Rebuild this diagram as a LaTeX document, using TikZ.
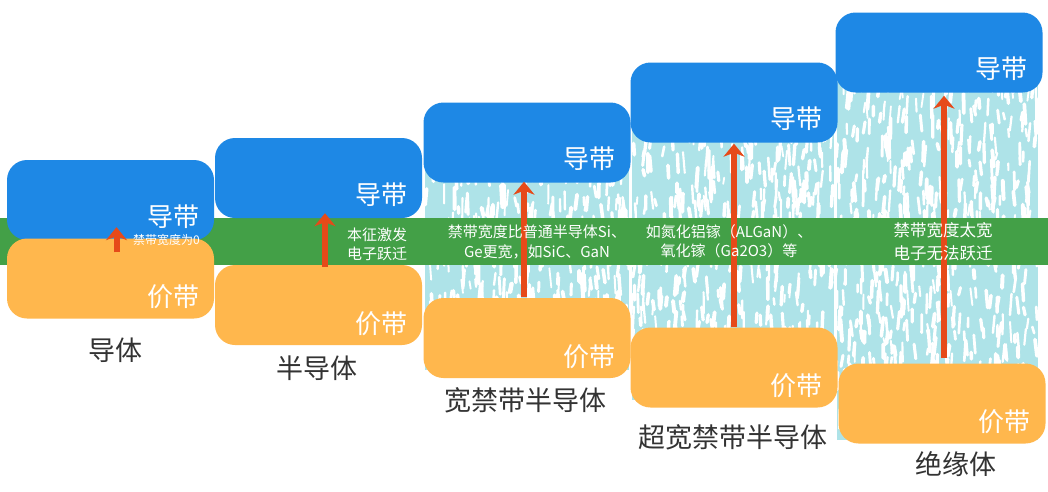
\documentclass[tikz,border=0pt]{standalone}
\usepackage{fontspec}
\setmainfont{Noto Sans CJK SC}
\usepackage{xcolor}
\definecolor{cband}{HTML}{1E88E5}
\definecolor{vband}{HTML}{FFB74D}
\definecolor{gapgreen}{HTML}{43A047}
\definecolor{jumpred}{HTML}{E64A19}
\definecolor{hatchcyan}{HTML}{AEE3E8}
\definecolor{capgray}{HTML}{333333}
\usepackage{tikz}
\usetikzlibrary{arrows.meta, calc}

\begin{document}
\begin{tikzpicture}[x=1pt, y=-1pt,
  bandbox/.style={rounded corners=20pt, minimum width=207pt, minimum height=80pt, inner sep=0pt},
  cbox/.style={bandbox, fill=cband},
  vbox/.style={bandbox, fill=vband},
  bandtext/.style={text=white, font=\fontsize{26}{30}\selectfont, anchor=east, inner sep=0pt},
  gaptext/.style={text=white, align=center, inner sep=0pt},
  captext/.style={text=capgray, font=\fontsize{27}{30}\selectfont, inner sep=0pt},
  jump/.style={-{Stealth[length=13pt, width=21pt, inset=4pt]}, line width=6pt, jumpred}]

  \fill[white] (0,0) rectangle (1048,491);
  \useasboundingbox (0,0) rectangle (1048,491);

  % hatched forbidden gap behind the wide gaps
  \pgfmathsetseed{42}
  \foreach \xa/\xb/\ya/\yb/\num in {425/629/140/370/380, 632/834/100/400/500, 837/1038/50/440/640} {
    \fill[hatchcyan] (\xa,\ya) rectangle (\xb,\yb);
    \begin{scope}
      \clip (\xa,\ya) rectangle (\xb,\yb);
      \foreach \k in {1,...,\num} {
        \pgfmathsetmacro\hx{\xa+rnd*(\xb-\xa)}
        \pgfmathsetmacro\hy{\ya+rnd*(\yb-\ya)}
        \pgfmathsetmacro\lw{1.8+rnd*2.2}
        \pgfmathsetmacro\len{6+rnd*16}
        \pgfmathsetmacro\dx{-2+rnd*4}
        \draw[white, line width=\lw pt, line cap=round] (\hx,\hy) -- ++(\dx,\len);
      }
    \end{scope}
  }

  % green gap band
  \node[fill=gapgreen, minimum width=1048pt, minimum height=47pt, inner sep=0pt] (gap) at (524,241.5) {};

  % conduction and valence bands
  \node[cbox] (b1) at (110.5,200) {};
  \node[vbox] (o1) at (110.5,278.5) {};
  \node[cbox] (b2) at (318.5,178) {};
  \node[vbox] (o2) at (318.5,305) {};
  \node[cbox] (b3) at (527,142.5) {};
  \node[vbox] (o3) at (527,338) {};
  \node[cbox] (b4) at (734,102.5) {};
  \node[vbox] (o4) at (734,367.5) {};
  \node[cbox] (b5) at (939,52.5) {};
  \node[vbox] (o5) at (942,403.5) {};

  \foreach \i in {1,...,5} {
    \node[bandtext] (cb\i) at ($(b\i.south east)+(-15,-24)$) {导带};
    \node[bandtext] (vb\i) at ($(o\i.south east)+(-15,-22)$) {价带};
  }

  % electron jumps
  \draw[jump] ($(o1.north)+(6,14)$) -- ($(b1.south)+(6,-13)$);
  \draw[jump] ($(o2.north)+(6.5,2)$) -- ($(b2.south)+(6.5,-5)$);
  \draw[jump] ($(o3.north)+(-3,-1)$) -- ($(b3.south)+(-3,-1)$);
  \draw[jump] (o4.north) -- ($(b4.south)+(0,1)$);
  \draw[jump] ($(o5.north)+(2,-5)$) -- ($(b5.south)+(5,3)$);

  % gap labels
  \node[gaptext, anchor=west, font=\fontsize{12}{14}\selectfont] (g1) at (133,240) {禁带宽度为0};
  \node[gaptext, font=\fontsize{15}{19}\selectfont] (g2) at (377,244) {本征激发\\电子跃迁};
  \node[gaptext, font=\fontsize{15}{20}\selectfont] (g3) at (537,242) {禁带宽度比普通半导体Si、\\Ge更宽，如SiC、GaN};
  \node[gaptext, font=\fontsize{15}{19}\selectfont] (g4) at (729,241) {如氮化铝镓（ALGaN）、\\氧化镓（Ga2O3）等};
  \node[gaptext, font=\fontsize{16.5}{23}\selectfont] (g5) at (943,241.5) {禁带宽度太宽\\电子无法跃迁};

  % material names
  \node[captext] (n1) at (115,350) {导体};
  \node[captext] (n2) at (317,368) {半导体};
  \node[captext] (n3) at (525,400) {宽禁带半导体};
  \node[captext] (n4) at (733,437) {超宽禁带半导体};
  \node[captext] (n5) at (956,464) {绝缘体};
\end{tikzpicture}
\end{document}
